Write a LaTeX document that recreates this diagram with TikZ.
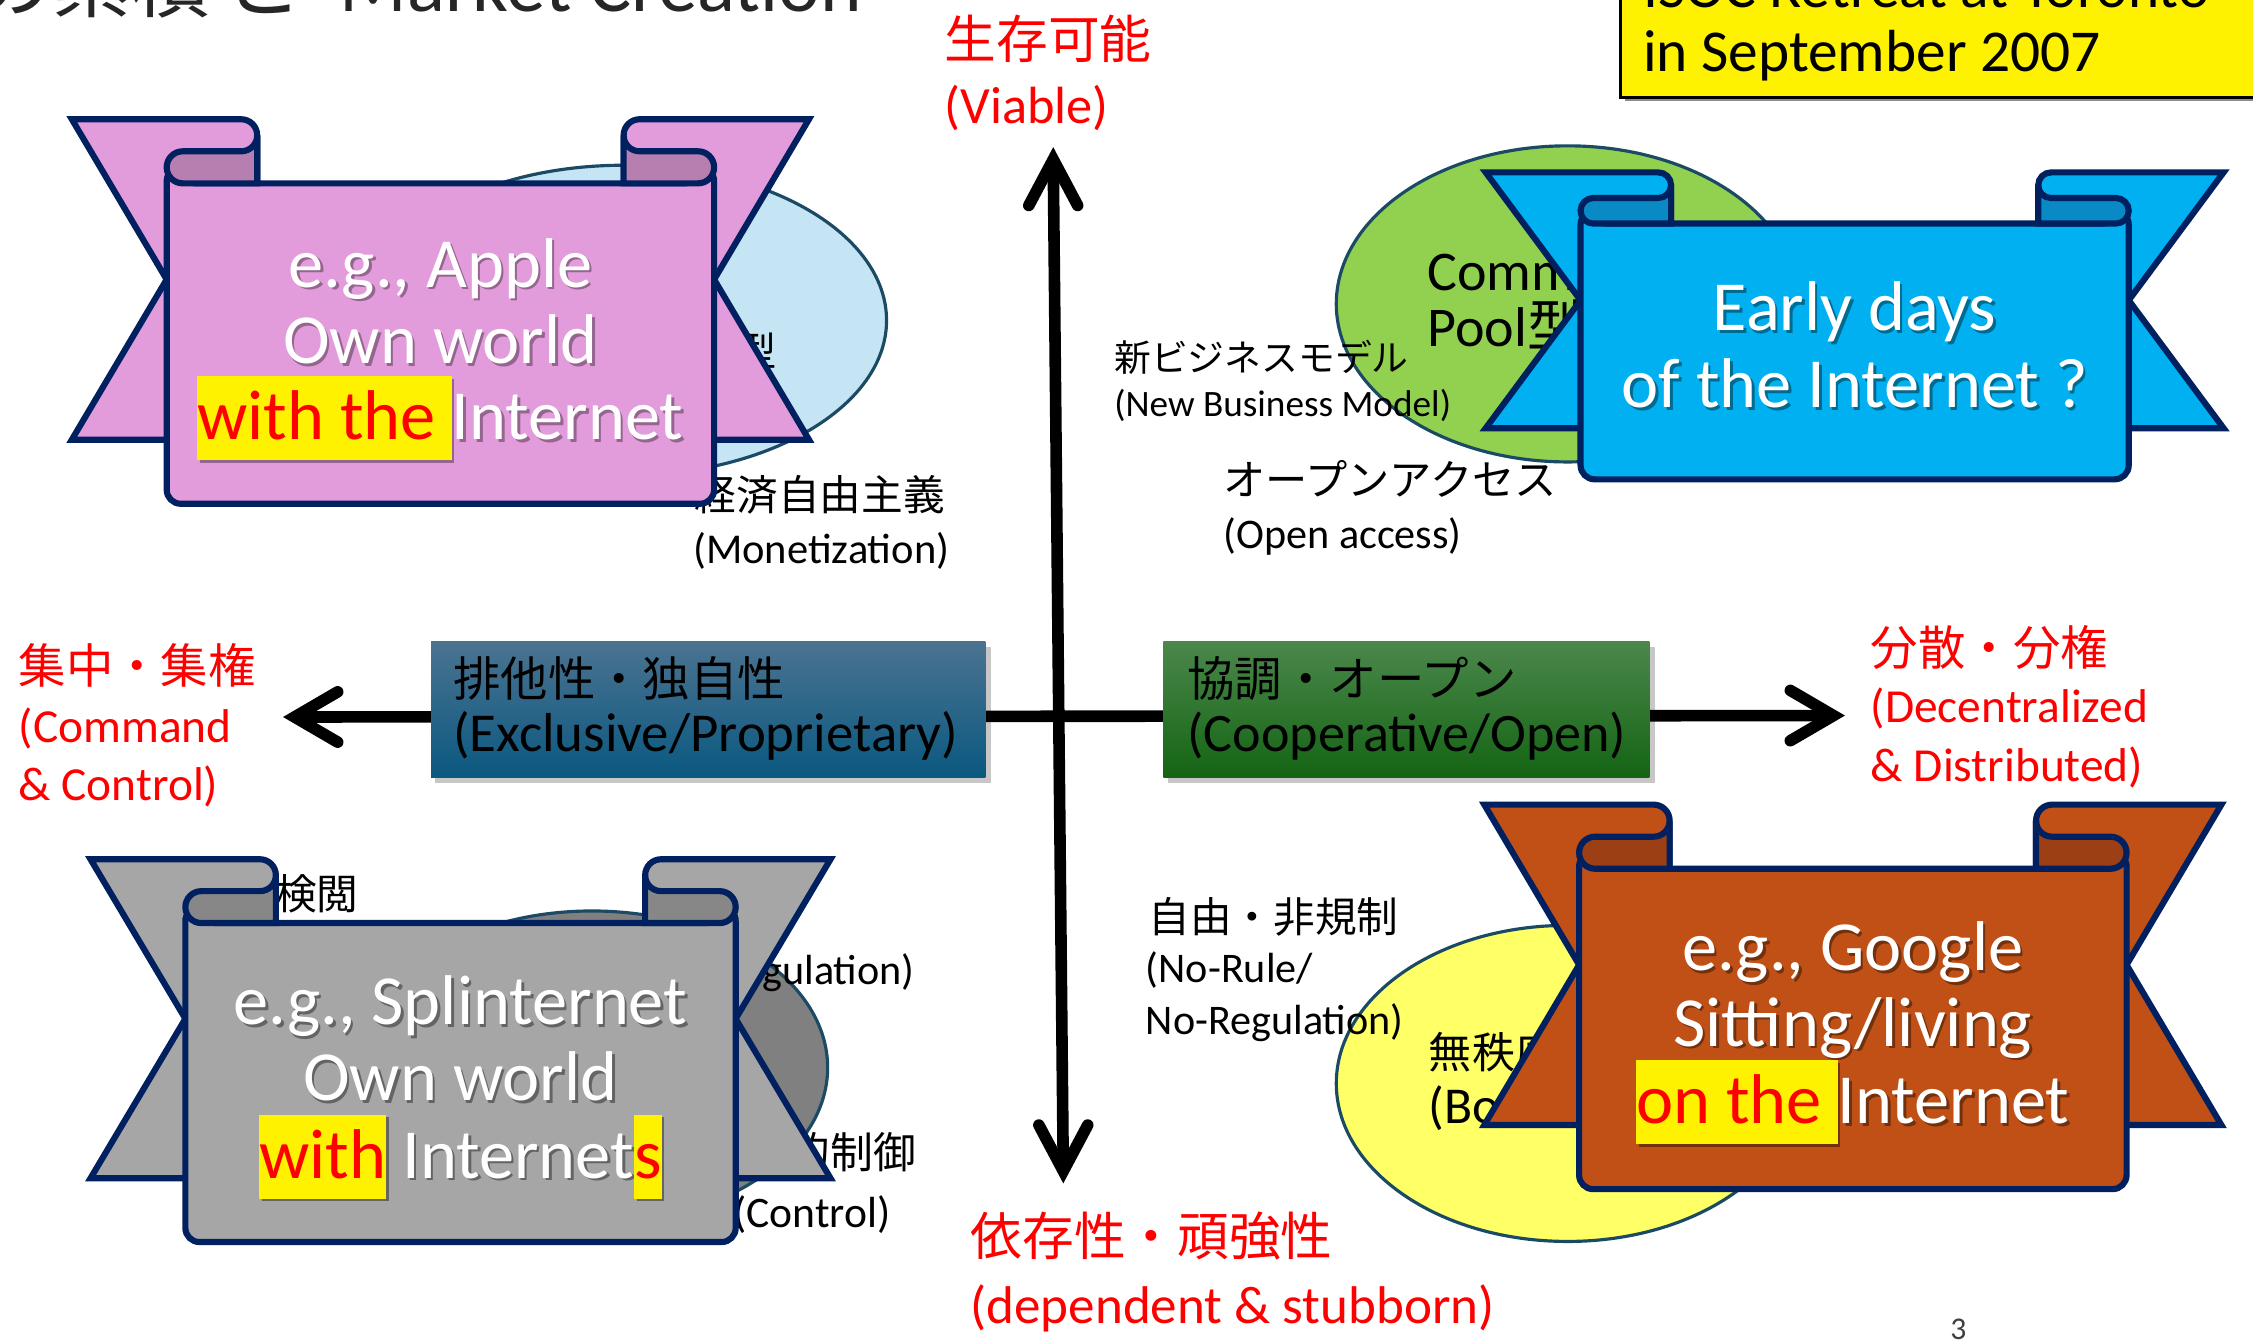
\documentclass[tikz,border=0pt]{standalone}
\usepackage{fontspec}
\setmainfont{Carlito}
\newfontfamily\cjk{Noto Sans CJK JP}
\usetikzlibrary{calc}
\definecolor{bnavy}{HTML}{002060}
\definecolor{elline}{HTML}{1B4A64}
\definecolor{pinkf}{HTML}{E39CDB}
\definecolor{pinkd}{HTML}{B77FB0}
\definecolor{bluef}{HTML}{00B0F0}
\definecolor{blued}{HTML}{0A8AC4}
\definecolor{grayf}{HTML}{A6A6A6}
\definecolor{grayd}{HTML}{878787}
\definecolor{orngf}{HTML}{C05016}
\definecolor{orngd}{HTML}{9C3F14}
\definecolor{lblue}{HTML}{C5E5F4}
\definecolor{lgreen}{HTML}{92D050}
\definecolor{lyellow}{HTML}{FFFF66}
\definecolor{egray}{HTML}{808080}
\definecolor{boxbt}{HTML}{4B7391}
\definecolor{boxbb}{HTML}{0A5880}
\definecolor{boxgt}{HTML}{4B874B}
\definecolor{boxgb}{HTML}{146414}
\definecolor{titlec}{HTML}{262626}
\newcommand\J[1]{{\cjk #1}}
\newcommand\fs[1]{\fontsize{#1}{#1}\selectfont}
\def\hlbg{yellow}\def\hlfg{red}
\newcommand\hl[1]{{\setlength{\fboxsep}{0pt}\colorbox{\hlbg}{\color{\hlfg}\rule[-0.29em]{0pt}{1.19em}#1}}}
\tikzset{
  ban/.style={draw=bnavy, line width=1.75pt, line join=miter, miter limit=10},
  ell/.style={draw=elline, line width=0.9pt},
  axisline/.style={line width=3.3pt, draw=black},
  arrowhd/.style={line width=3.3pt, draw=black, line cap=round, line join=miter},
  txt/.style={inner sep=0pt, anchor=base west, text=black},
  redtxt/.style={inner sep=0pt, anchor=base west, text=red},
  btxt/.style={inner sep=0pt, anchor=base, text=white, font=\fs{20.03pt}},
}
\newcommand\banner[7]{%
  \pgfmathsetmacro\bL{#2}%
  \pgfmathsetmacro\bR{#3}%
  \pgfmathsetmacro\bT{#4}%
  \pgfmathsetmacro\bB{#5}%
  \pgfmathsetmacro\bh{0.05*(\bB-\bT)}%
  \pgfmathsetmacro\bRt{\bT+2*\bh}%
  \pgfmathsetmacro\bFT{\bT+4*\bh}%
  \pgfmathsetmacro\bFB{\bB+0.2*(\bB-\bT)}%
  \pgfmathsetmacro\bN{(\bT+\bB)/2}%
  \pgfmathsetmacro\bXo{\bL-66}%
  \pgfmathsetmacro\bXO{\bR+66}%
  \pgfmathsetmacro\bXi{\bL+63}%
  \pgfmathsetmacro\bXI{\bR-63}%
  \coordinate (#1) at ({(\bL+\bR)/2},{(\bFT+\bFB)/2});
  \filldraw[ban,fill=#6] (\bXo,\bT) -- ({\bXi-\bh},\bT) arc[start angle=-90,end angle=0,radius=\bh] -- (\bXi,\bB) -- (\bXo,\bB) -- (\bL,\bN) -- cycle;
  \filldraw[ban,fill=#6] (\bXO,\bT) -- ({\bXI+\bh},\bT) arc[start angle=-90,end angle=-180,radius=\bh] -- (\bXI,\bB) -- (\bXO,\bB) -- (\bR,\bN) -- cycle;
  \filldraw[ban,fill=#6,rounded corners=4pt] ({\bL+\bh},\bFT) -- (\bL,{\bRt+\bh}) -- (\bL,\bFB) -- (\bR,\bFB) -- (\bR,{\bRt+\bh}) -- ({\bR-\bh},\bFT) -- cycle;
  \filldraw[ban,fill=#7] (\bXi,{\bT+\bh}) arc[start angle=0,end angle=90,radius=\bh] -- ({\bL+\bh},\bRt) arc[start angle=-90,end angle=-270,radius=\bh] -- (\bXi,\bFT) -- cycle;
  \filldraw[ban,fill=#7] (\bXI,{\bT+\bh}) arc[start angle=180,end angle=90,radius=\bh] -- ({\bR-\bh},\bRt) arc[start angle=-90,end angle=90,radius=\bh] -- (\bXI,\bFT) -- cycle;
}
\newcommand\btext[5]{%
  \node[btxt, text=#5] (#1s) at ({#2+1.8},{#3+1.8}) {\def\hlbg{#5}\def\hlfg{#5}#4};
  \node[btxt] (#1) at (#2,#3) {#4};}
\begin{document}
\begin{tikzpicture}[x=0.40884pt,y=-0.40884pt]
\useasboundingbox (0,0) rectangle (1568,932.6);
\fill[white] (0,0) rectangle (1568,932.6);
\clip (0,0) rectangle (1568,932.6);

% title
\node[txt, anchor=base east, text=titlec, font=\fs{22.49pt}] (t1) at (147,8) {\J{の累積}};
\node[txt, anchor=base, text=titlec, font=\fs{22.49pt}] (t2) at (183,8) {\J{と}};
\node[txt, text=titlec, font=\fs{22.49pt}] (t3) at (236,8) {Market Creation};

% yellow box top right
\fill[black!45] (1131,-5) rectangle (1580,70.5);
\filldraw[fill=yellow, draw=black, line width=0.8pt] (1128,-5) rectangle (1580,68);
\node[txt, font=\fs{16.9pt}] (y1) at (1143,5) {ISOC Retreat at Toronto};
\node[txt, font=\fs{16.9pt}] (y2) at (1143,50) {in September 2007};

% ellipses
\filldraw[ell, fill=lblue] (434,223) ellipse [x radius=183, y radius=108];
\filldraw[ell, fill=lgreen] (1091,211.5) ellipse [x radius=161, y radius=110];
\filldraw[ell, fill=egray] (412,743) ellipse [x radius=164, y radius=109];
\filldraw[ell, fill=lyellow] (1091,754) ellipse [x radius=161, y radius=110];

% ellipse texts
\node[txt, anchor=base east, font=\fs{11.45pt}] (e1) at (541,255) {\J{型}};
\node[txt, font=\fs{15.94pt}] (e2) at (993,202.5) {Common};
\node[txt, font=\fs{15.94pt}] (e3) at (993,241) {Pool\J{型}};
\node[txt, font=\fs{12.27pt}] (e4) at (994,743.5) {\J{無秩序}};
\node[txt, font=\fs{14.72pt}] (e5) at (994,782) {(Borderless)};

% quadrant labels
\node[txt, font=\fs{10.47pt}] (q1a) at (775,258.8) {\J{新ビジネスモデル}};
\node[txt, font=\fs{10.6pt}] (q1b) at (775,290.2) {(New Business Model)};
\node[txt, font=\fs{12.02pt}] (q2a) at (851,344.8) {\J{オープンアクセス}};
\node[txt, font=\fs{12pt}] (q2b) at (851,381.8) {(Open access)};
\node[txt, font=\fs{11.86pt}] (q3a) at (483,355) {\J{経済自由主義}};
\node[txt, font=\fs{12.1pt}] (q3b) at (482,392) {(Monetization)};
\node[txt, font=\fs{11.86pt}] (q4a) at (798.7,648.7) {\J{自由・非規制}};
\node[txt, font=\fs{12pt}] (q4b) at (797,684) {(No-Rule/};
\node[txt, font=\fs{12pt}] (q4c) at (797,720) {No-Regulation)};
\node[txt, anchor=base east, font=\fs{11.86pt}] (q5) at (250,633) {\J{検閲}};
\node[txt, anchor=base east, font=\fs{12pt}] (q6) at (637,685) {(Regulation)};
\node[txt, anchor=base east, font=\fs{12.2pt}] (q7) at (638,813) {\J{的制御}};
\node[txt, font=\fs{12.4pt}] (q8) at (510,854) {(Control)};

% axes
\coordinate (vtop) at (733,111);
\coordinate (vbot) at (740,815);
\coordinate (hleft) at (205,499);
\coordinate (hright) at (1276,498);
\draw[axisline] (vtop) -- (vbot);
\draw[axisline] (hleft) -- (hright);
\draw[arrowhd] ($(vtop)+(-17,32)$) -- (vtop) -- ($(vtop)+(17,32)$);
\draw[arrowhd] ($(vbot)+(-17,-32)$) -- (vbot) -- ($(vbot)+(17,-32)$);
\draw[arrowhd] ($(hleft)+(30,-17.5)$) -- (hleft) -- ($(hleft)+(30,17.5)$);
\draw[arrowhd] ($(hright)+(-30,-17.5)$) -- (hright) -- ($(hright)+(-30,17.5)$);

% boxes on the axis
\fill[black, opacity=0.22] (303,450) rectangle (689.5,545);
\shade[top color=boxbt, bottom color=boxbb] (300,446.5) rectangle (685.8,541.4);
\node[txt, font=\fs{13.49pt}] (b1) at (315,484.5) {\J{排他性・独自性}};
\node[txt, font=\fs{15.6pt}] (b2) at (315,523.3) {(Exclusive/Proprietary)};
\fill[black, opacity=0.22] (812.7,450) rectangle (1151.5,545);
\shade[top color=boxgt, bottom color=boxgb] (809.7,446.5) rectangle (1147.8,541.4);
\node[txt, font=\fs{13.49pt}] (g1) at (826,484.5) {\J{協調・オープン}};
\node[txt, font=\fs{15.4pt}] (g2) at (826,523.3) {(Cooperative/Open)};

% banners
\banner{pinkban}{116}{497}{83}{306}{pinkf}{pinkd}
\banner{blueban}{1100}{1481.5}{120}{298}{bluef}{blued}
\banner{grayban}{129}{512}{598}{820}{grayf}{grayd}
\banner{orngban}{1099}{1480}{560}{783}{orngf}{orngd}

% banner texts
\btext{p1}{306.5}{200}{e.g., Apple}{pinkf!65!black}
\btext{p2}{306.5}{253}{Own world}{pinkf!65!black}
\btext{p3}{306.5}{306}{\hl{with the }Internet}{pinkf!65!black}
\btext{u1}{1290.75}{230}{Early days}{bluef!60!black}
\btext{u2}{1290.75}{283.7}{of the Internet ?}{bluef!60!black}
\btext{s1}{320.5}{713}{e.g., Splinternet}{grayf!60!black}
\btext{s2}{320.5}{766}{Own world}{grayf!60!black}
\btext{s3}{320.5}{820}{\hl{with} Internet\hl{s}}{grayf!60!black}
\btext{o1}{1289.5}{675.5}{e.g., Google}{orngf!60!black}
\btext{o2}{1289.5}{728}{Sitting/living}{orngf!60!black}
\btext{o3}{1289.5}{782}{\hl{on the }Internet}{orngf!60!black}

% red axis labels
\node[redtxt, font=\fs{14.72pt}] (rv1) at (657,41) {\J{生存可能}};
\node[redtxt, font=\fs{14.9pt}] (rv2) at (657,86) {(Viable)};
\node[redtxt, font=\fs{13.49pt}] (rl1) at (12.5,476) {\J{集中・集権}};
\node[redtxt, font=\fs{13.49pt}] (rl2) at (12.5,517) {(Command};
\node[redtxt, font=\fs{13.49pt}] (rl3) at (12.5,557) {\& Control)};
\node[redtxt, font=\fs{13.49pt}] (rr1) at (1301.5,463.5) {\J{分散・分権}};
\node[redtxt, font=\fs{13.49pt}] (rr2) at (1301.5,503) {(Decentralized};
\node[redtxt, font=\fs{13.49pt}] (rr3) at (1301.5,544) {\& Distributed)};
\node[redtxt, font=\fs{14.72pt}] (rd1) at (675,873.7) {\J{依存性・頑強性}};
\node[redtxt, font=\fs{15.1pt}] (rd2) at (675,921) {(dependent \& stubborn)};

% page number
\node[txt, anchor=base, text=black!75, font=\fs{9pt}] (pg) at (1363,932) {3};
\end{tikzpicture}
\end{document}
